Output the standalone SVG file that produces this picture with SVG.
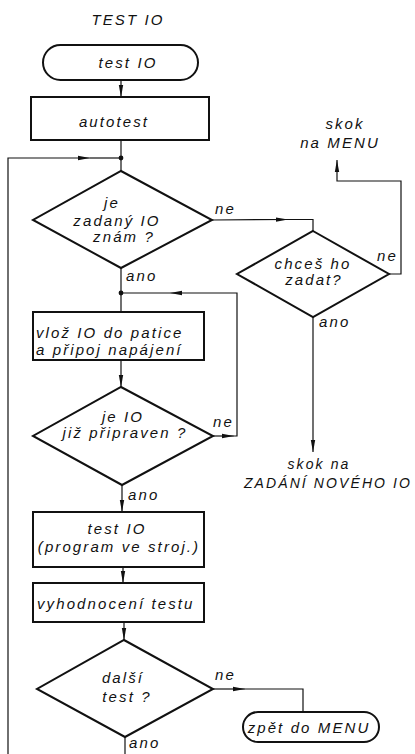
<svg xmlns="http://www.w3.org/2000/svg" width="415" height="754" viewBox="0 0 415 754">
  <style>
    .shape { fill: #fff; stroke: #111; stroke-width: 2; }
    .wire { fill: none; stroke: #111; stroke-width: 1.2; }
    text { font-family: "Liberation Sans", "DejaVu Sans", sans-serif; font-style: italic; font-size: 15px; fill: #111; letter-spacing: 2.1px; }
    .c { text-anchor: middle; }
    .s { font-size: 14px; }
  </style>
  <defs>
    <marker id="arr" viewBox="0 0 12 6" refX="12" refY="3" markerWidth="12" markerHeight="6" markerUnits="userSpaceOnUse" orient="auto">
      <path d="M0,0.8 L12,3 L0,5.2 Z" fill="#111"/>
    </marker>
  </defs>

  <text class="c" x="128" y="25">TEST IO</text>

  <!-- connectors -->
  <g id="connectors">
    <line class="wire" x1="121" y1="80" x2="121" y2="97" marker-end="url(#arr)"/>
    <line class="wire" x1="121" y1="140" x2="121" y2="171"/>
    <circle cx="121" cy="158" r="2.4" fill="#111"/>
    <!-- return loop along the left edge -->
    <polyline class="wire" points="8,754 8,158 90,158" marker-end="url(#arr)"/>
    <line class="wire" x1="90" y1="158" x2="121" y2="158"/>
    <!-- je zadaný IO znám? -> ne -->
    <polyline class="wire" points="212,220 288,219.5" marker-end="url(#arr)"/>
    <polyline class="wire" points="288,219.5 313,219.5 313,231"/>
    <!-- chceš ho zadat? -> ne -->
    <polyline class="wire" points="389,274 401,274 401,181 337,181 337,160" marker-end="url(#arr)"/>
    <!-- chceš ho zadat? -> ano -->
    <line class="wire" x1="313" y1="317" x2="313" y2="452" marker-end="url(#arr)"/>
    <!-- je zadaný IO znám? -> ano -->
    <line class="wire" x1="121" y1="268" x2="121" y2="312"/>
    <circle cx="121" cy="293" r="2.4" fill="#111"/>
    <line class="wire" x1="121" y1="360" x2="121" y2="387" marker-end="url(#arr)"/>
    <!-- je IO již připraven? -> ne -->
    <line class="wire" x1="213" y1="436" x2="234" y2="436" marker-end="url(#arr)"/>
    <polyline class="wire" points="234,436 237,436 237,293 170,293" marker-end="url(#arr)"/>
    <line class="wire" x1="170" y1="293" x2="121" y2="293"/>
    <!-- main chain -->
    <line class="wire" x1="122" y1="485" x2="122" y2="512" marker-end="url(#arr)"/>
    <line class="wire" x1="123" y1="567" x2="123" y2="583" marker-end="url(#arr)"/>
    <line class="wire" x1="124" y1="622" x2="124" y2="640" marker-end="url(#arr)"/>
    <line class="wire" x1="125" y1="737" x2="125" y2="754"/>
    <!-- další test? -> ne -->
    <line class="wire" x1="213" y1="689" x2="245" y2="689" marker-end="url(#arr)"/>
    <polyline class="wire" points="245,689 303,689 303,712"/>
  </g>

  <g id="start">
    <rect class="shape" x="43" y="45" width="155" height="35" rx="17.5"/>
    <text class="c" x="128" y="68">test IO</text>
  </g>

  <g id="autotest">
    <rect class="shape" x="31" y="97" width="178" height="43"/>
    <text class="c" x="114" y="127">autotest</text>
  </g>

  <g id="known">
    <polygon class="shape" points="121,171 212,220 121,268 33,220"/>
    <text class="c" x="112" y="208">je</text>
    <text class="c" x="117" y="226">zadaný IO</text>
    <text class="c" x="124" y="242">znám ?</text>
    <text x="215" y="214">ne</text>
    <text x="126" y="281">ano</text>
  </g>

  <g id="want">
    <polygon class="shape" points="313,231 389,274 313,317 237,274"/>
    <text class="c" x="313" y="269">chceš ho</text>
    <text class="c" x="314" y="285">zadat?</text>
    <text x="377" y="261">ne</text>
    <text x="319" y="327">ano</text>
  </g>

  <g id="menu-jump">
    <text class="c" x="345" y="129">skok</text>
    <text class="c" x="340" y="148">na MENU</text>
  </g>

  <g id="new-jump">
    <text class="c s" x="319" y="469">skok na</text>
    <text class="c s" x="328" y="488">ZADÁNÍ NOVÉHO IO</text>
  </g>

  <g id="insert">
    <rect class="shape" x="33" y="312" width="171" height="48"/>
    <text x="36" y="338">vlož IO do patice</text>
    <text x="36" y="355">a připoj napájení</text>
  </g>

  <g id="ready">
    <polygon class="shape" points="121,387 213,436 122,485 33,436"/>
    <text class="c" x="123" y="422">je IO</text>
    <text class="c" x="125" y="438">již připraven ?</text>
    <text x="213" y="427">ne</text>
    <text x="128" y="500">ano</text>
  </g>

  <g id="run-test">
    <rect class="shape" x="33" y="512" width="171" height="55"/>
    <text class="c" x="117" y="534">test IO</text>
    <text class="c" x="119" y="552">(program ve stroj.)</text>
  </g>

  <g id="evaluate">
    <rect class="shape" x="33" y="583" width="171" height="39"/>
    <text x="37" y="609">vyhodnocení testu</text>
  </g>

  <g id="next">
    <polygon class="shape" points="124,640 213,689 125,737 37,689"/>
    <text class="c" x="123" y="683">další</text>
    <text class="c" x="127" y="702">test ?</text>
    <text x="215" y="680">ne</text>
    <text x="129" y="748">ano</text>
  </g>

  <g id="back">
    <rect class="shape" x="243" y="712" width="136" height="30" rx="15"/>
    <text class="c" x="309" y="733">zpět do MENU</text>
  </g>
</svg>
